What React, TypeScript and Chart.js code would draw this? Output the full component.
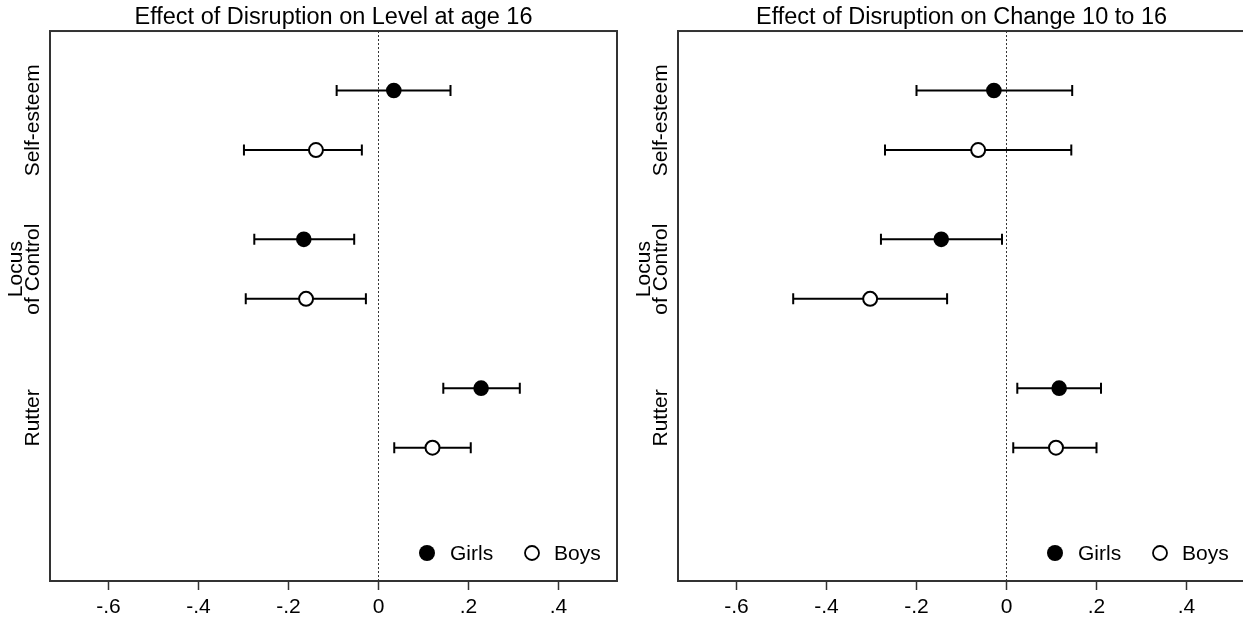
import React, { useEffect, useRef } from "react";
import { Chart, registerables } from "chart.js";

Chart.register(...registerables);

// ---------- data ----------
const categories: string[][] = [["Self-esteem"], ["Locus", "of Control"], ["Rutter"]];
const girlsRows = [1, 3.5, 6];
const boysRows = [2, 4.5, 7];
const labelRows = [1.5, 4, 6.5];
const seriesNames = ["Girls", "Boys"];
const xTicks = [-0.6, -0.4, -0.2, 0, 0.2, 0.4];
const xTickLabels = ["-.6", "-.4", "-.2", "0", ".2", ".4"];

const titleLevel = "Effect of Disruption on Level at age 16";
const levelGirls = [0.034, -0.166, 0.228];
const levelGirlsLo = [-0.093, -0.276, 0.144];
const levelGirlsHi = [0.16, -0.054, 0.314];
const levelBoys = [-0.139, -0.161, 0.12];
const levelBoysLo = [-0.299, -0.295, 0.035];
const levelBoysHi = [-0.037, -0.028, 0.205];

const titleChange = "Effect of Disruption on Change 10 to 16";
const changeGirls = [-0.028, -0.145, 0.117];
const changeGirlsLo = [-0.2, -0.279, 0.024];
const changeGirlsHi = [0.146, -0.01, 0.21];
const changeBoys = [-0.063, -0.303, 0.11];
const changeBoysLo = [-0.27, -0.474, 0.015];
const changeBoysHi = [0.144, -0.132, 0.2];

const FONT = '"Liberation Sans", Arial, Helvetica, sans-serif';

const decorPlugin = {
  id: "panelDecor",
  beforeDatasetsDraw(chart: any) {
    const { ctx, chartArea: a, scales } = chart;
    const xs = scales.x;
    const ys = scales.y;
    ctx.save();
    // dotted zero line
    const x0 = Math.round(xs.getPixelForValue(0)) + 0.5;
    ctx.strokeStyle = "#333";
    ctx.lineWidth = 1;
    ctx.setLineDash([2, 2]);
    ctx.beginPath();
    ctx.moveTo(x0, a.top);
    ctx.lineTo(x0, a.bottom);
    ctx.stroke();
    ctx.setLineDash([]);
    // error bars
    ctx.strokeStyle = "#000";
    ctx.lineWidth = 2;
    chart.data.datasets.forEach((ds: any) => {
      ds.data.forEach((p: any) => {
        const yy = ys.getPixelForValue(p.y);
        const xl = xs.getPixelForValue(p.lo);
        const xh = xs.getPixelForValue(p.hi);
        ctx.beginPath();
        ctx.moveTo(xl, yy);
        ctx.lineTo(xh, yy);
        ctx.moveTo(xl, yy - 5.5);
        ctx.lineTo(xl, yy + 5.5);
        ctx.moveTo(xh, yy - 5.5);
        ctx.lineTo(xh, yy + 5.5);
        ctx.stroke();
      });
    });
    ctx.restore();
  },
  afterDraw(chart: any) {
    const { ctx, chartArea: a, scales } = chart;
    const ys = scales.y;
    ctx.save();
    // frame
    ctx.strokeStyle = "#333";
    ctx.lineWidth = 2;
    ctx.strokeRect(a.left, a.top, a.right - a.left, a.bottom - a.top);
    // y category labels (rotated)
    ctx.fillStyle = "#000";
    ctx.font = `21px ${FONT}`;
    ctx.textAlign = "center";
    ctx.textBaseline = "middle";
    categories.forEach((lines, i) => {
      const yy = ys.getPixelForValue(labelRows[i]);
      const n = lines.length;
      lines.forEach((line, k) => {
        const xx = a.left - 17 - (n - 1 - k) * 17;
        ctx.save();
        ctx.translate(xx, yy);
        ctx.rotate(-Math.PI / 2);
        ctx.fillText(line, 0, 0);
        ctx.restore();
      });
    });
    // legend inside bottom-right
    const ly = a.bottom - 28;
    ctx.textAlign = "left";
    ctx.textBaseline = "middle";
    ctx.beginPath();
    ctx.arc(a.right - 190, ly, 8, 0, Math.PI * 2);
    ctx.fillStyle = "#000";
    ctx.fill();
    ctx.fillText(seriesNames[0], a.right - 167, ly + 1);
    ctx.beginPath();
    ctx.arc(a.right - 85, ly, 7, 0, Math.PI * 2);
    ctx.fillStyle = "#fff";
    ctx.fill();
    ctx.strokeStyle = "#000";
    ctx.lineWidth = 1.8;
    ctx.stroke();
    ctx.fillStyle = "#000";
    ctx.fillText(seriesNames[1], a.right - 63, ly + 1);
    ctx.restore();
  },
};

type PanelProps = {
  title: string;
  girls: number[];
  girlsLo: number[];
  girlsHi: number[];
  boys: number[];
  boysLo: number[];
  boysHi: number[];
  width: number;
  padLeft: number;
  padRight: number;
};

function Panel(props: PanelProps) {
  const ref = useRef<HTMLCanvasElement | null>(null);
  useEffect(() => {
    if (!ref.current) return;
    const girlsData = props.girls.map((v, i) => ({ x: v, y: girlsRows[i], lo: props.girlsLo[i], hi: props.girlsHi[i] }));
    const boysData = props.boys.map((v, i) => ({ x: v, y: boysRows[i], lo: props.boysLo[i], hi: props.boysHi[i] }));
    const chart = new Chart(ref.current, {
      type: "scatter",
      data: {
        datasets: [
          {
            label: seriesNames[0],
            data: girlsData,
            pointRadius: 7.8,
            pointBackgroundColor: "#000",
            pointBorderColor: "#000",
            pointBorderWidth: 0,
          },
          {
            label: seriesNames[1],
            data: boysData,
            pointRadius: 7,
            pointBackgroundColor: "#fff",
            pointBorderColor: "#000",
            pointBorderWidth: 2,
          },
        ],
      } as any,
      options: {
        responsive: false,
        animation: false,
        events: [],
        layout: { autoPadding: false, padding: { left: props.padLeft, right: props.padRight, top: 0, bottom: 0 } },
        plugins: {
          legend: { display: false },
          tooltip: { enabled: false },
          title: {
            display: true,
            text: props.title,
            color: "#000",
            font: { family: FONT, size: 23.5, weight: "normal", lineHeight: 1.15 },
            padding: { top: 4, bottom: 0 },
          },
        },
        scales: {
          x: {
            type: "linear",
            min: -0.73,
            max: 0.53,
            afterBuildTicks: (scale: any) => {
              scale.ticks = xTicks.map((v) => ({ value: v }));
            },
            afterFit: (scale: any) => {
              scale.height = 40;
              scale.paddingLeft = 0;
              scale.paddingRight = 0;
            },
            ticks: {
              autoSkip: false,
              maxRotation: 0,
              minRotation: 0,
              padding: 5,
              color: "#000",
              font: { family: FONT, size: 21 },
              callback: (v: any) => {
                const idx = xTicks.findIndex((t) => Math.abs(t - Number(v)) < 1e-9);
                return idx >= 0 ? xTickLabels[idx] : "";
              },
            },
            grid: {
              display: true,
              drawOnChartArea: false,
              drawTicks: true,
              tickLength: 9,
              tickColor: "#333",
              tickWidth: 1.5,
            } as any,
            border: { display: false },
          },
          y: {
            type: "linear",
            reverse: true,
            min: 0,
            max: 9.24,
            display: false,
          },
        },
      } as any,
      plugins: [decorPlugin],
    });
    return () => chart.destroy();
  }, []);
  return <canvas ref={ref} width={props.width} height={621} style={{ display: "block" }} />;
}

export default function App() {
  return (
    <div
      style={{
        position: "fixed",
        left: 0,
        top: 0,
        width: 1243,
        height: 621,
        overflow: "hidden",
        background: "#fff",
      }}
    >
      <div style={{ position: "absolute", left: 0, top: 0 }}>
        <Panel
          title={titleLevel}
          girls={levelGirls}
          girlsLo={levelGirlsLo}
          girlsHi={levelGirlsHi}
          boys={levelBoys}
          boysLo={levelBoysLo}
          boysHi={levelBoysHi}
          width={621}
          padLeft={50}
          padRight={4}
        />
      </div>
      <div style={{ position: "absolute", left: 621, top: 0 }}>
        <Panel
          title={titleChange}
          girls={changeGirls}
          girlsLo={changeGirlsLo}
          girlsHi={changeGirlsHi}
          boys={changeBoys}
          boysLo={changeBoysLo}
          boysHi={changeBoysHi}
          width={625}
          padLeft={57}
          padRight={1}
        />
      </div>
    </div>
  );
}
